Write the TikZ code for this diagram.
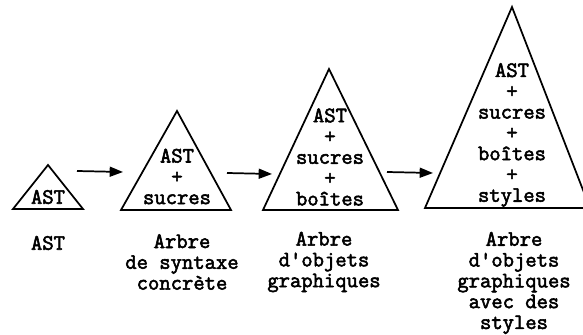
\documentclass[tikz,border=0pt]{standalone}
\usepackage{fontspec}
\newfontfamily\courbf[FakeBold=2.5]{Latin Modern Mono}
\usetikzlibrary{arrows.meta}
\begin{document}
\begin{tikzpicture}[x=0.75pt,y=-0.75pt]

    \tikzset{
      tri/.style={
        line width=1.3pt,
        line join=miter,
      },
      txt/.style={
        font=\courbf\fontsize{16.5}{15.6}\selectfont,
        align=center,
        inner sep=0pt,
      },
      flow/.style={
        line width=1.3pt,
        -{Triangle[length=10pt,width=7.5pt]},
      },
    }
    \useasboundingbox (0,0) rectangle (583,335);
    \clip (0,0) rectangle (583,335);
	\draw[tri] (48,165)--(83,209)--(13,209)--cycle;
	\draw[tri] (177,111)--(231,210)--(121,210)--cycle;
	\draw[tri] (329,69)--(398,210)--(263,210)--cycle;
	\draw[tri] (512,7)--(590,208)--(425,208)--cycle;

	\node[txt] (ast) at (48,197) {AST};
	\node[txt] (syn) at (177,176.5) {AST\\+\\sucres};
	\node[txt] (obj) at (330,157) {AST\\+\\sucres\\+\\boîtes};
	\node[txt] (sty) at (512,135) {AST\\+\\sucres\\+\\boîtes\\+\\styles};

	\coordinate (a1) at (77,171);
	\coordinate (b1) at (123,172);
	\coordinate (a2) at (227,173);
	\coordinate (b2) at (272,174);
	\coordinate (a3) at (387,172);
	\coordinate (b3) at (433,173);
	\draw[flow] (a1)--(b1);
	\draw[flow] (a2)--(b2);
	\draw[flow] (a3)--(b3);

	\node[txt] (l1) at (48,243) {AST};
	\node[txt] (l2) at (182,262) {Arbre\\de syntaxe\\concrète};
	\node[txt] (l3) at (324,262) {Arbre\\d'objets\\graphiques};
	\node[txt] (l4) at (514,283) {Arbre\\d'objets\\graphiques\\avec des\\styles};

\end{tikzpicture}
\end{document}
